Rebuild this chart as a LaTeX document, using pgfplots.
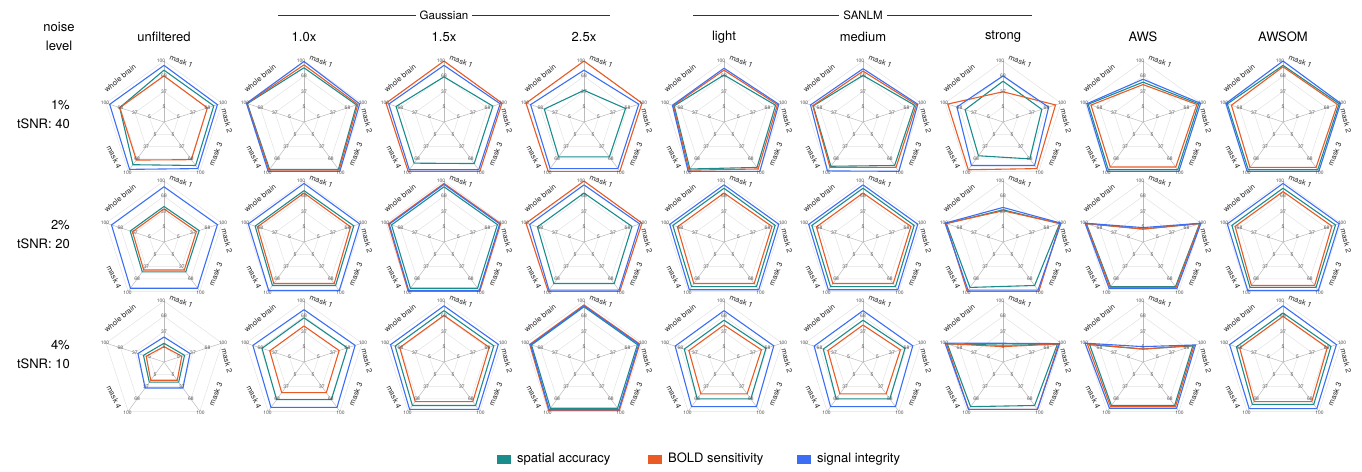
\documentclass[border=0pt]{standalone}
\usepackage{fontspec}
\setmainfont{TeX Gyre Heros}
\usepackage{pgfplots}
\usepackage{pgfplotstable}
\pgfplotsset{compat=1.18}
\definecolor{cSA}{HTML}{1B8C8C}
\definecolor{cBS}{HTML}{EA5A25}
\definecolor{cSI}{HTML}{3B6EF5}
\definecolor{ringc}{HTML}{E2E2E2}
\definecolor{spokec}{HTML}{BBBBBB}
\definecolor{tickc}{HTML}{555555}

% columns: a = axis angle, sa = spatial accuracy, bs = BOLD sensitivity, si = signal integrity
% row 1 (1% noise)
\pgfplotstableread{
a sa bs si
90 81 69 91
18 82 68 90
-54 85 70 93
-126 83 71 95
162 70 70 92
90 81 69 91
}\pAa
\pgfplotstableread{
a sa bs si
90 86 92 99
18 88 91 95
-54 95 97 100
-126 95 97 100
162 97 98 99
90 86 92 99
}\pAb
\pgfplotstableread{
a sa bs si
90 67 100 91
18 80 100 96
-54 80 100 96
-126 79 100 96
162 78 100 94
90 67 100 91
}\pAc
\pgfplotstableread{
a sa bs si
90 39 100 81
18 64 100 93
-54 63 100 93
-126 63 100 93
162 60 100 90
90 39 100 81
}\pAd
\pgfplotstableread{
a sa bs si
90 71 81 85
18 86 90 93
-54 90 94 100
-126 94 97 100
162 82 84 86
90 71 81 85
}\pAe
\pgfplotstableread{
a sa bs si
90 70 79 84
18 86 90 93
-54 85 90 100
-126 87 90 99
162 82 83 88
90 70 79 84
}\pAf
\pgfplotstableread{
a sa bs si
90 58 36 69
18 58 88 73
-54 68 93 85
-126 60 96 85
162 56 94 74
90 58 36 69
}\pAg
\pgfplotstableread{
a sa bs si
90 56 51 62
18 95 91 99
-54 96 89 100
-126 96 89 100
162 93 87 96
90 56 51 62
}\pAh
\pgfplotstableread{
a sa bs si
90 91 88 100
18 96 92 99
-54 96 90 100
-126 96 90 100
162 95 86 98
90 91 88 100
}\pAi
% row 2 (2% noise)
\pgfplotstableread{
a sa bs si
90 47 42 88
18 50 44 90
-54 50 45 92
-126 50 45 92
162 47 42 88
90 47 42 88
}\pBa
\pgfplotstableread{
a sa bs si
90 80 75 95
18 82 75 95
-54 85 80 98
-126 85 80 98
162 80 75 95
90 80 75 95
}\pBb
\pgfplotstableread{
a sa bs si
90 88 95 93
18 90 97 95
-54 92 100 98
-126 92 100 98
162 88 95 93
90 88 95 93
}\pBc
\pgfplotstableread{
a sa bs si
90 75 100 92
18 78 100 95
-54 80 100 97
-126 80 100 97
162 75 100 92
90 75 100 92
}\pBd
\pgfplotstableread{
a sa bs si
90 85 75 92
18 85 78 93
-54 88 80 96
-126 88 80 96
162 85 75 92
90 85 75 92
}\pBe
\pgfplotstableread{
a sa bs si
90 85 75 92
18 85 78 93
-54 88 80 96
-126 88 80 96
162 85 75 92
90 85 75 92
}\pBf
\pgfplotstableread{
a sa bs si
90 40 38 45
18 97 98 100
-54 85 100 97
-126 90 100 97
162 97 98 100
90 40 38 45
}\pBg
\pgfplotstableread{
a sa bs si
90 0 0 3
18 97 98 100
-54 88 90 93
-126 88 90 93
162 97 98 100
90 0 0 3
}\pBh
\pgfplotstableread{
a sa bs si
90 85 78 95
18 88 80 96
-54 90 85 98
-126 90 85 98
162 85 78 95
90 85 78 95
}\pBi
% row 3 (4% noise)
\pgfplotstableread{
a sa bs si
90 12 5 25
18 18 12 30
-54 25 20 40
-126 25 20 40
162 18 12 30
90 12 5 25
}\pCa
\pgfplotstableread{
a sa bs si
90 65 48 82
18 68 50 85
-54 70 52 90
-126 70 52 90
162 65 48 85
90 65 48 82
}\pCb
\pgfplotstableread{
a sa bs si
90 80 70 90
18 82 72 92
-54 85 75 95
-126 85 75 95
162 80 70 90
90 80 70 90
}\pCc
\pgfplotstableread{
a sa bs si
90 88 92 90
18 90 95 93
-54 92 98 96
-126 92 98 96
162 88 92 90
90 88 92 90
}\pCd
\pgfplotstableread{
a sa bs si
90 60 50 80
18 65 55 82
-54 68 55 88
-126 68 55 88
162 60 50 80
90 60 50 80
}\pCe
\pgfplotstableread{
a sa bs si
90 60 50 80
18 65 55 82
-54 68 55 88
-126 68 55 88
162 60 50 80
90 60 50 80
}\pCf
\pgfplotstableread{
a sa bs si
90 8 5 12
18 92 95 97
-54 85 95 95
-126 88 95 95
162 95 97 100
90 8 5 12
}\pCg
\pgfplotstableread{
a sa bs si
90 0 0 5
18 82 85 88
-54 85 88 92
-126 85 88 92
162 90 95 100
90 0 0 5
}\pCh
\pgfplotstableread{
a sa bs si
90 75 68 90
18 78 70 90
-54 82 75 93
-126 82 75 93
162 75 68 90
90 75 68 90
}\pCi

\tikzset{
  tk/.style={font=\fontsize{5}{5}\selectfont, text=tickc, inner sep=0pt},
  lab/.style={font=\fontsize{7.5}{8}\selectfont, text=black!85, inner sep=0pt},
}

% one radar panel: #1 = x, #2 = y of its centre (pt), #3 = table
\newcommand{\radar}[3]{%
\begin{axis}[at={(#1pt,#2pt)}, anchor=center, hide axis, scale only axis,
  width=124.8pt, height=124.8pt, xmin=-130, xmax=130, ymin=-130, ymax=130, clip=false]
  \addplot[ringc, line width=0.5pt, data cs=polar] coordinates {(90,127) (18,127) (-54,127) (-126,127) (162,127) (90,127)};
  \addplot[ringc, line width=0.5pt, data cs=polar] coordinates {(90,95.25) (18,95.25) (-54,95.25) (-126,95.25) (162,95.25) (90,95.25)};
  \addplot[ringc, line width=0.5pt, data cs=polar] coordinates {(90,63.5) (18,63.5) (-54,63.5) (-126,63.5) (162,63.5) (90,63.5)};
  \addplot[ringc, line width=0.5pt, data cs=polar] coordinates {(90,31.75) (18,31.75) (-54,31.75) (-126,31.75) (162,31.75) (90,31.75)};
  \addplot[spokec, line width=0.5pt, data cs=polar] coordinates {(90,0) (90,127)};
  \addplot[spokec, line width=0.5pt, data cs=polar] coordinates {(18,0) (18,127)};
  \addplot[spokec, line width=0.5pt, data cs=polar] coordinates {(-54,0) (-54,127)};
  \addplot[spokec, line width=0.5pt, data cs=polar] coordinates {(-126,0) (-126,127)};
  \addplot[spokec, line width=0.5pt, data cs=polar] coordinates {(162,0) (162,127)};
  \addplot[cSA, line width=1.1pt, line join=miter] table[x expr={(\thisrow{sa}+27)*cos(\thisrow{a})}, y expr={(\thisrow{sa}+27)*sin(\thisrow{a})}] {#3};
  \addplot[cBS, line width=1.1pt, line join=miter] table[x expr={(\thisrow{bs}+27)*cos(\thisrow{a})}, y expr={(\thisrow{bs}+27)*sin(\thisrow{a})}] {#3};
  \addplot[cSI, line width=1.1pt, line join=miter] table[x expr={(\thisrow{si}+27)*cos(\thisrow{a})}, y expr={(\thisrow{si}+27)*sin(\thisrow{a})}] {#3};
\end{axis}
\begin{scope}[shift={(#1pt,#2pt)}]
  \foreach \ang in {90,18,-54,-126,162}{
    \node[tk] at (\ang:15.25pt) {5};
    \node[tk] at (\ang:30.5pt) {37};
    \node[tk] at (\ang:45.75pt) {68};
  }
  \node[tk] at ([xshift=-3pt]90:61.5pt) {100};
  \node[tk] at (18:62pt) {100};
  \node[tk] at ([yshift=-1pt]-54:62pt) {100};
  \node[tk] at ([yshift=-1pt]-126:62pt) {100};
  \node[tk] at (162:62pt) {100};
  \node[lab, rotate=-22] at (74:63pt) {mask 1};
  \node[lab, rotate=-75] at (1:63pt) {mask 2};
  \node[lab, rotate=68] at (-32:61pt) {mask 3};
  \node[lab, rotate=-64] at (215:61pt) {mask 4};
  \node[lab, rotate=40] at (135:62pt) {whole brain};
\end{scope}
}

\begin{document}
\begin{tikzpicture}[x=1pt, y=1pt]
\useasboundingbox (0,0) rectangle (1362,471);
\tikzset{big/.style={font=\fontsize{13}{14}\selectfont, inner sep=0pt}}
% header
\node[big] at (59,444) {noise};
\node[big] at (59,425) {level};
\foreach \xx/\tt in {164/unfiltered, 304/1.0x, 444/1.5x, 584/2.5x, 724/light, 863/medium, 1003/strong, 1143/AWS, 1283/AWSOM}{
  \node[big] at (\xx,434) {\tt};
}
\draw[black!80, line width=0.6pt] (278,456) -- (610,456);
\node[font=\fontsize{11.5}{12}\selectfont, fill=white, inner xsep=4pt, inner ysep=1pt] at (444,456) {Gaussian};
\draw[black!80, line width=0.6pt] (693,456) -- (1032,456);
\node[font=\fontsize{11.5}{12}\selectfont, fill=white, inner xsep=4pt, inner ysep=1pt] at (863,456) {SANLM};
% row labels
\node[big, anchor=east] at (70,366) {1\%};
\node[big, anchor=east] at (70,347) {tSNR: 40};
\node[big, anchor=east] at (70,246) {2\%};
\node[big, anchor=east] at (70,227) {tSNR: 20};
\node[big, anchor=east] at (70,126) {4\%};
\node[big, anchor=east] at (70,107) {tSNR: 10};
% panels
\radar{164}{349}{\pAa}
\radar{304}{349}{\pAb}
\radar{444}{349}{\pAc}
\radar{584}{349}{\pAd}
\radar{724}{349}{\pAe}
\radar{863}{349}{\pAf}
\radar{1003}{349}{\pAg}
\radar{1143}{349}{\pAh}
\radar{1283}{349}{\pAi}
\radar{164}{229}{\pBa}
\radar{304}{229}{\pBb}
\radar{444}{229}{\pBc}
\radar{584}{229}{\pBd}
\radar{724}{229}{\pBe}
\radar{863}{229}{\pBf}
\radar{1003}{229}{\pBg}
\radar{1143}{229}{\pBh}
\radar{1283}{229}{\pBi}
\radar{164}{109}{\pCa}
\radar{304}{109}{\pCb}
\radar{444}{109}{\pCc}
\radar{584}{109}{\pCd}
\radar{724}{109}{\pCe}
\radar{863}{109}{\pCf}
\radar{1003}{109}{\pCg}
\radar{1143}{109}{\pCh}
\radar{1283}{109}{\pCi}
% legend
\fill[cSA] (497,7) rectangle (511,16);
\node[big, anchor=west] at (517,11.5) {spatial accuracy};
\fill[cBS] (648,7) rectangle (662,16);
\node[big, anchor=west] at (668,11.5) {BOLD sensitivity};
\fill[cSI] (797,7) rectangle (811,16);
\node[big, anchor=west] at (817,11.5) {signal integrity};
\end{tikzpicture}
\end{document}
